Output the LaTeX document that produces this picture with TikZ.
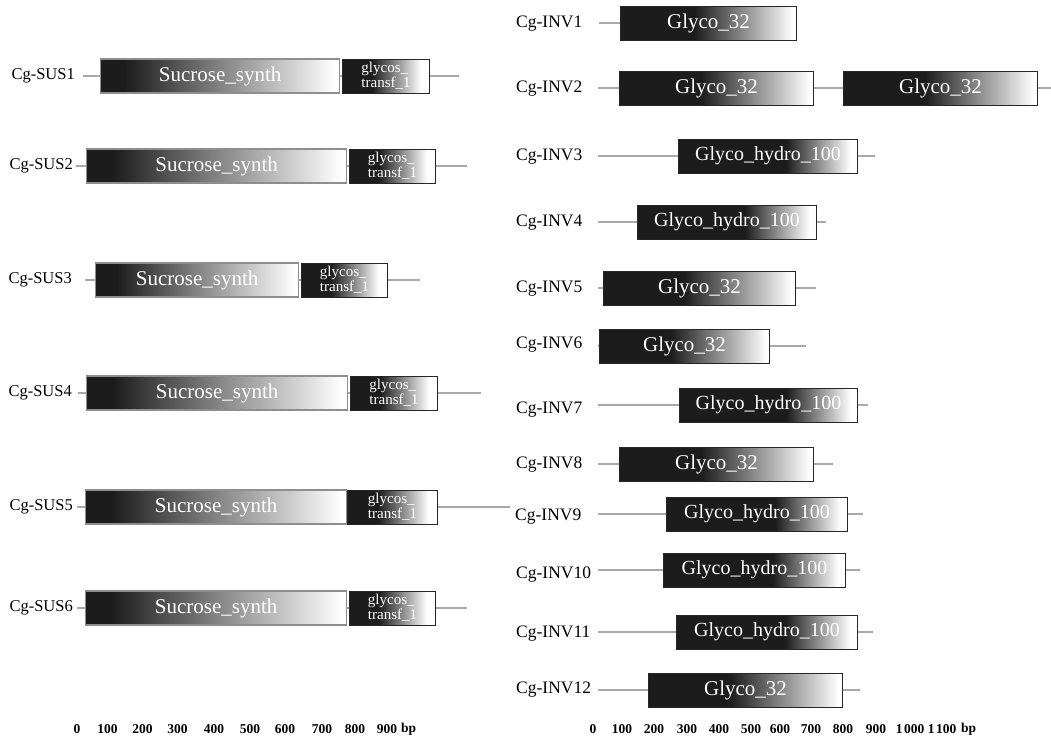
\documentclass[tikz,border=0pt]{standalone}
\usepackage{fontspec}
\setmainfont{Liberation Serif}
\usepackage{xcolor}
\usepackage{tikz}
\usetikzlibrary{positioning}
\definecolor{gsdark}{HTML}{1C1C1C}
\definecolor{gsline}{HTML}{A9A9A9}
\definecolor{gsframe}{HTML}{8E8E8E}
\pgfdeclarehorizontalshading{sucshade}{100bp}{color(0bp)=(gsdark); color(30bp)=(gsdark); color(74bp)=(white); color(100bp)=(white)}
\pgfdeclarehorizontalshading{gtshade}{100bp}{color(0bp)=(gsdark); color(42bp)=(gsdark); color(70bp)=(white); color(100bp)=(white)}
\pgfdeclarehorizontalshading{gtyshade}{100bp}{color(0bp)=(gsdark); color(46bp)=(gsdark); color(74bp)=(white); color(100bp)=(white)}
\pgfdeclarehorizontalshading{ghshade}{100bp}{color(0bp)=(gsdark); color(55bp)=(gsdark); color(73bp)=(white); color(100bp)=(white)}

\begin{document}
\begin{tikzpicture}[
    x=1pt, y=-1pt,
    gene/.style={font=\fontsize{16.5}{18}\selectfont, inner sep=0pt},
    igene/.style={gene, anchor=west, font=\fontsize{17.5}{19}\selectfont},
    bb/.style={draw=gsline, line width=2.6pt},
    dom/.style={anchor=west, inner sep=0pt, minimum height=34pt, text=white, shade,
      font=\fontsize{21}{22}\selectfont},
    suc/.style={dom, shading=sucshade, draw=gsframe, line width=1.4pt},
    gt/.style={dom, shading=gtshade, draw=black!85, line width=1pt, align=left,
      font=\fontsize{15}{13.5}\selectfont},
    gty/.style={dom, shading=gtyshade, draw=black!85, line width=1pt},
    gh/.style={dom, shading=ghshade, draw=black!85, line width=1pt,
      font=\fontsize{20}{21}\selectfont},
    tick/.style={font=\bfseries\fontsize{13.5}{15}\selectfont, inner sep=0pt}
  ]
    \useasboundingbox (0,0) rectangle (1051,737);

    % sucrose synthases
    \coordinate (s1a) at (83,76); \coordinate (s1b) at (459,76);
    \draw[bb] (s1a) -- (s1b);
    \node[suc, minimum width=239pt] (s1x) at (100,76) {Sucrose\_synth};
    \node[gt, minimum width=87pt] (s1y) at (342,76) {glycos\_\\transf\_1};
    \node[gene, anchor=east] (s1) at (75,76) {Cg-SUS1};

    \coordinate (s2a) at (76,166); \coordinate (s2b) at (467,166);
    \draw[bb] (s2a) -- (s2b);
    \node[suc, minimum width=260pt] (s2x) at (86,166) {Sucrose\_synth};
    \node[gt, minimum width=86pt] (s2y) at (349,166) {glycos\_\\transf\_1};
    \node[gene, anchor=east] (s2) at (73,166) {Cg-SUS2};

    \coordinate (s3a) at (85,280); \coordinate (s3b) at (420,280);
    \draw[bb] (s3a) -- (s3b);
    \node[suc, minimum width=203pt] (s3x) at (95,280) {Sucrose\_synth};
    \node[gt, minimum width=86pt] (s3y) at (301,280) {glycos\_\\transf\_1};
    \node[gene, anchor=east] (s3) at (72,280) {Cg-SUS3};

    \coordinate (s4a) at (78,393); \coordinate (s4b) at (481,393);
    \draw[bb] (s4a) -- (s4b);
    \node[suc, minimum width=261pt] (s4x) at (86,393) {Sucrose\_synth};
    \node[gt, minimum width=87pt] (s4y) at (350,393) {glycos\_\\transf\_1};
    \node[gene, anchor=east] (s4) at (72,393) {Cg-SUS4};

    \coordinate (s5a) at (77,507); \coordinate (s5b) at (510,507);
    \draw[bb] (s5a) -- (s5b);
    \node[suc, minimum width=261pt] (s5x) at (85,507) {Sucrose\_synth};
    \node[gt, minimum width=90pt] (s5y) at (347,507) {glycos\_\\transf\_1};
    \node[gene, anchor=east] (s5) at (73,507) {Cg-SUS5};

    \coordinate (s6a) at (77,608); \coordinate (s6b) at (467,608);
    \draw[bb] (s6a) -- (s6b);
    \node[suc, minimum width=261pt] (s6x) at (85,608) {Sucrose\_synth};
    \node[gt, minimum width=86pt] (s6y) at (349,608) {glycos\_\\transf\_1};
    \node[gene, anchor=east] (s6) at (73,608) {Cg-SUS6};

    % invertases
    \coordinate (i1a) at (599,23); \coordinate (i1b) at (686,23);
    \draw[bb] (i1a) -- (i1b);
    \node[gty, minimum width=176pt] (i1x) at (620,23) {Glyco\_32};
    \node[igene] (i1) at (516,24) {Cg-INV1};

    \coordinate (i2a) at (598,88); \coordinate (i2b) at (1051,88);
    \draw[bb] (i2a) -- (i2b);
    \node[gty, minimum width=194pt] (i2x) at (619,88) {Glyco\_32};
    \node[gty, minimum width=194pt] (i2y) at (843,88) {Glyco\_32};
    \node[igene] (i2) at (516,89) {Cg-INV2};

    \coordinate (i3a) at (598,156); \coordinate (i3b) at (875,156);
    \draw[bb] (i3a) -- (i3b);
    \node[gh, minimum width=179pt] (i3x) at (678,156) {Glyco\_hydro\_100};
    \node[igene] (i3) at (516,157) {Cg-INV3};

    \coordinate (i4a) at (598,222); \coordinate (i4b) at (826,222);
    \draw[bb] (i4a) -- (i4b);
    \node[gh, minimum width=179pt] (i4x) at (637,222) {Glyco\_hydro\_100};
    \node[igene] (i4) at (516,223) {Cg-INV4};

    \coordinate (i5a) at (598,288); \coordinate (i5b) at (816,288);
    \draw[bb] (i5a) -- (i5b);
    \node[gty, minimum width=192pt] (i5x) at (603,288) {Glyco\_32};
    \node[igene] (i5) at (516,289) {Cg-INV5};

    \coordinate (i6a) at (598,346); \coordinate (i6b) at (806,346);
    \draw[bb] (i6a) -- (i6b);
    \node[gty, minimum width=170pt] (i6x) at (599,346) {Glyco\_32};
    \node[igene] (i6) at (516,345) {Cg-INV6};

    \coordinate (i7a) at (598,405); \coordinate (i7b) at (868,405);
    \draw[bb] (i7a) -- (i7b);
    \node[gh, minimum width=178pt] (i7x) at (679,405) {Glyco\_hydro\_100};
    \node[igene] (i7) at (516,410) {Cg-INV7};

    \coordinate (i8a) at (598,464); \coordinate (i8b) at (833,464);
    \draw[bb] (i8a) -- (i8b);
    \node[gty, minimum width=194pt] (i8x) at (619,464) {Glyco\_32};
    \node[igene] (i8) at (516,465) {Cg-INV8};

    \coordinate (i9a) at (598,514); \coordinate (i9b) at (863,514);
    \draw[bb] (i9a) -- (i9b);
    \node[gh, minimum width=181pt] (i9x) at (666,514) {Glyco\_hydro\_100};
    \node[igene] (i9) at (515,517) {Cg-INV9};

    \coordinate (i10a) at (598,570); \coordinate (i10b) at (860,570);
    \draw[bb] (i10a) -- (i10b);
    \node[gh, minimum width=182pt] (i10x) at (663,570) {Glyco\_hydro\_100};
    \node[igene] (i10) at (516,575) {Cg-INV10};

    \coordinate (i11a) at (598,632); \coordinate (i11b) at (873,632);
    \draw[bb] (i11a) -- (i11b);
    \node[gh, minimum width=181pt] (i11x) at (676,632) {Glyco\_hydro\_100};
    \node[igene] (i11) at (516,634) {Cg-INV11};

    \coordinate (i12a) at (598,690); \coordinate (i12b) at (860,690);
    \draw[bb] (i12a) -- (i12b);
    \node[gty, minimum width=194pt] (i12x) at (648,690) {Glyco\_32};
    \node[igene] (i12) at (516,690) {Cg-INV12};

    % scales
    \foreach \v/\x in {0/77, 100/107.5, 200/142.5, 300/177.5, 400/214, 500/250, 600/285, 700/322, 800/355, 900/387}
      \node[tick] (l\v) at (\x,729) {\v};
    \node[tick, anchor=west] (lbp) at (401,729) {bp};
    \foreach \v/\x in {0/593, 100/622, 200/654, 300/687, 400/719, 500/751, 600/780, 700/811, 800/843, 900/876}
      \node[tick] (r\v) at (\x,729) {\v};
    \node[tick] (r1000) at (910,729) {1\kern1.5pt000};
    \node[tick] (r1100) at (942,729) {1\kern1.5pt100};
    \node[tick, anchor=west] (rbp) at (961,729) {bp};
  \end{tikzpicture}
\end{document}
